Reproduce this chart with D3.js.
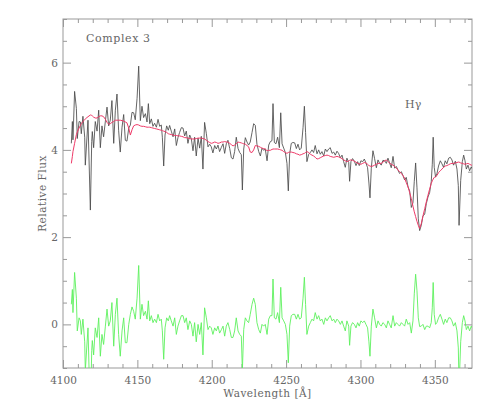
<!DOCTYPE html>
<html>
<head>
<meta charset="utf-8">
<script src="https://cdn.jsdelivr.net/npm/d3@7"></script>
<style>
  body { margin: 0; background: #fff; }
  svg text { font-family: "DejaVu Serif", serif; fill: #666; }
</style>
</head>
<body>
<div id="chart"></div>
<script>
// wavelength grid (Angstrom)
const wave = [
  4105.6,4106.3,4106.7,4107.8,4109.0,4109.6,4110.8,4111.7,4112.3,4113.4,
  4114.6,4115.0,4116.8,4118.4,4119.3,4119.7,4120.6,4121.7,4122.9,4124.0,
  4125.1,4126.2,4127.3,4128.5,4129.6,4130.7,4131.8,4132.9,4134.1,4135.2,
  4136.3,4137.4,4138.5,4139.7,4140.8,4141.9,4143.0,4144.2,4145.3,4146.4,
  4147.5,4148.6,4149.8,4150.9,4152.0,4153.1,4154.2,4155.4,4156.5,4157.4,
  4158.3,4159.4,4160.5,4161.6,4162.8,4163.9,4165.0,4166.1,4166.8,4167.7,
  4168.6,4169.7,4170.8,4171.7,4172.8,4174.0,4175.1,4176.2,4177.3,4178.4,
  4179.6,4180.7,4181.8,4182.9,4184.0,4185.2,4186.3,4187.4,4188.5,4189.6,
  4190.8,4191.9,4193.0,4194.1,4195.2,4196.4,4197.5,4198.6,4199.7,4200.8,
  4202.0,4203.1,4204.2,4205.3,4206.5,4207.6,4208.7,4209.8,4210.9,4212.1,
  4213.2,4214.3,4215.4,4216.5,4217.7,4218.8,4219.9,4220.6,4221.5,4222.6,
  4223.7,4224.8,4225.9,4227.1,4228.2,4229.3,4230.4,4231.6,4232.7,4233.8,
  4234.9,4236.0,4237.2,4238.3,4239.4,4240.5,4241.2,4242.1,4243.2,4244.3,
  4245.5,4246.4,4247.3,4248.4,4249.5,4250.6,4251.5,4252.4,4253.5,4254.6,
  4255.8,4256.9,4258.0,4259.1,4260.2,4261.4,4262.3,4263.1,4264.0,4265.2,
  4266.3,4267.4,4268.5,4269.6,4270.8,4271.9,4273.0,4274.1,4275.3,4276.4,
  4277.5,4278.6,4279.7,4280.9,4282.0,4283.1,4284.2,4285.3,4286.5,4287.6,
  4288.7,4289.8,4290.9,4292.1,4292.7,4293.6,4294.7,4295.9,4297.0,4298.1,
  4299.2,4300.3,4301.5,4302.6,4303.7,4304.8,4305.7,4306.4,4307.3,4308.4,
  4309.5,4310.7,4311.8,4312.9,4314.0,4315.1,4316.3,4317.4,4318.5,4319.6,
  4320.7,4321.9,4323.0,4324.1,4325.2,4326.3,4327.5,4328.6,4329.7,4330.8,
  4332.0,4333.1,4334.2,4335.3,4336.2,4337.1,4338.0,4338.9,4339.8,4340.9,
  4342.0,4343.2,4344.3,4345.4,4346.5,4347.6,4348.3,4348.9,4349.6,4350.5,
  4351.4,4352.5,4353.7,4354.8,4355.9,4357.0,4358.1,4359.3,4360.4,4361.5,
  4362.6,4363.8,4364.9,4365.8,4366.3,4367.4,4368.5,4369.4,4370.3,4371.2,
  4372.3,4373.4,4374.5,4375.0
];

// observed spectrum (black)
const flux = [
  4.15,4.65,4.23,5.34,4.95,4.26,4.65,4.64,4.37,4.77,
  4.29,3.65,4.68,2.62,4.19,4.42,4.05,4.65,4.43,4.91,
  4.05,4.55,4.30,4.66,4.98,4.55,4.68,5.13,4.15,4.91,
  5.28,4.45,3.95,4.52,4.81,4.22,4.20,4.50,4.57,4.86,
  4.85,4.69,5.18,5.92,4.67,5.00,4.74,4.83,4.64,5.06,
  4.60,4.71,4.54,4.61,4.52,4.70,4.54,4.57,4.29,3.63,
  4.34,4.55,4.45,4.56,4.43,4.30,4.48,4.10,4.28,4.40,
  4.51,4.50,4.32,4.43,4.15,4.34,4.25,3.98,4.29,3.86,
  4.27,4.04,4.31,3.56,4.63,4.37,4.07,4.13,4.07,3.93,
  4.10,4.02,4.11,3.96,4.06,4.14,3.92,4.14,4.22,4.03,
  3.82,3.79,3.96,4.29,4.03,3.94,3.89,3.08,4.02,4.28,
  4.18,4.11,4.18,4.40,4.60,4.56,4.13,3.96,3.86,4.04,
  3.99,4.02,3.75,4.11,4.19,4.21,5.06,4.17,4.14,4.29,
  4.05,4.85,4.14,4.04,3.94,3.69,3.06,3.91,4.15,4.17,
  4.16,4.03,4.13,4.00,4.04,4.51,5.00,4.40,3.73,3.90,
  3.94,4.00,3.94,4.10,3.91,4.00,3.90,3.96,3.86,4.02,
  3.96,4.02,4.05,3.92,3.95,3.88,3.97,3.92,3.82,3.88,
  3.73,3.60,3.81,3.71,3.28,3.73,3.80,3.74,3.64,3.73,
  3.64,3.75,3.73,3.79,3.70,3.59,3.24,2.90,3.58,3.98,
  3.80,3.59,3.77,3.69,3.65,3.76,3.75,3.69,3.81,3.70,
  3.59,3.85,3.58,3.62,3.54,3.46,3.50,3.41,3.31,3.37,
  3.15,3.06,2.68,2.79,3.28,3.70,3.13,2.42,2.15,2.27,
  2.48,2.53,2.77,2.92,3.02,3.27,3.67,4.29,3.60,3.38,
  3.45,3.63,3.75,3.68,3.60,3.75,3.68,3.81,3.83,3.77,
  3.65,3.74,3.56,3.18,2.27,3.30,3.73,3.88,3.75,3.56,
  3.65,3.52,3.61,3.57
];

// model fit (red)
const model = [
  3.69,3.85,3.96,4.15,4.35,4.41,4.50,4.56,4.60,4.65,
  4.69,4.71,4.76,4.80,4.79,4.78,4.75,4.73,4.73,4.76,
  4.78,4.78,4.76,4.70,4.63,4.59,4.60,4.63,4.65,4.68,
  4.68,4.68,4.68,4.67,4.66,4.64,4.62,4.50,4.34,4.46,
  4.55,4.57,4.58,4.57,4.55,4.54,4.54,4.53,4.52,4.52,
  4.52,4.51,4.50,4.49,4.48,4.47,4.46,4.45,4.44,4.43,
  4.42,4.40,4.37,4.36,4.35,4.34,4.33,4.33,4.32,4.32,
  4.31,4.30,4.28,4.28,4.27,4.26,4.25,4.25,4.25,4.26,
  4.27,4.27,4.27,4.26,4.25,4.22,4.19,4.17,4.15,4.16,
  4.18,4.17,4.15,4.16,4.18,4.18,4.19,4.18,4.18,4.15,
  4.12,4.09,4.11,4.14,4.18,4.17,4.16,4.15,4.14,4.13,
  4.10,4.07,3.95,3.94,4.00,4.10,4.09,4.08,4.06,4.04,
  4.03,4.02,3.98,3.99,3.99,4.01,4.02,4.02,4.02,4.02,
  4.01,4.00,3.99,3.96,3.94,3.92,3.94,3.95,3.95,3.94,
  3.93,3.91,3.90,3.88,3.89,3.91,3.92,3.94,3.96,3.94,
  3.90,3.88,3.86,3.83,3.79,3.80,3.82,3.84,3.86,3.87,
  3.88,3.87,3.85,3.84,3.83,3.84,3.85,3.84,3.82,3.80,
  3.77,3.75,3.73,3.75,3.76,3.77,3.76,3.74,3.72,3.69,
  3.68,3.67,3.69,3.71,3.70,3.67,3.64,3.63,3.62,3.63,
  3.65,3.67,3.69,3.69,3.69,3.72,3.75,3.77,3.73,3.70,
  3.67,3.65,3.62,3.58,3.54,3.50,3.46,3.41,3.35,3.25,
  3.15,3.02,2.88,2.71,2.58,2.47,2.36,2.27,2.20,2.31,
  2.48,2.65,2.81,2.96,3.10,3.23,3.29,3.33,3.37,3.38,
  3.41,3.48,3.52,3.56,3.60,3.63,3.64,3.66,3.68,3.69,
  3.69,3.70,3.71,3.72,3.72,3.70,3.69,3.68,3.67,3.68,
  3.69,3.67,3.65,3.65
];

// residual, observed minus model (green)
const resid = [
  0.46,0.80,0.27,1.19,0.60,-0.15,0.15,0.08,-0.23,0.12,
  -0.40,-1.06,-0.08,-2.18,-0.60,-0.37,-0.70,-0.08,-0.30,0.15,
  -0.73,-0.23,-0.46,-0.04,0.35,-0.04,0.08,0.50,-0.50,0.23,
  0.60,-0.23,-0.73,-0.15,0.15,-0.42,-0.42,0.00,0.23,0.40,
  0.30,0.12,0.60,1.35,0.12,0.46,0.20,0.30,0.12,0.54,
  0.08,0.20,0.04,0.12,0.04,0.23,0.08,0.12,-0.15,-0.80,
  -0.08,0.15,0.08,0.20,0.08,-0.04,0.15,-0.23,-0.04,0.08,
  0.20,0.20,0.04,0.15,-0.12,0.08,0.00,-0.27,0.04,-0.40,
  0.00,-0.23,0.04,-0.70,0.38,0.15,-0.12,-0.04,-0.08,-0.23,
  -0.08,-0.15,-0.04,-0.20,-0.12,-0.04,-0.27,-0.04,0.04,-0.12,
  -0.30,-0.30,-0.15,0.15,-0.15,-0.23,-0.27,-1.07,-0.12,0.15,
  0.08,0.04,0.23,0.46,0.60,0.46,0.04,-0.12,-0.20,0.00,
  -0.04,0.00,-0.23,0.12,0.20,0.20,1.04,0.15,0.12,0.27,
  0.04,0.85,0.15,0.08,0.00,-0.23,-0.88,-0.04,0.20,0.23,
  0.23,0.12,0.23,0.12,0.15,0.60,1.08,0.46,-0.23,-0.04,
  0.04,0.12,0.08,0.27,0.12,0.20,0.08,0.12,0.00,0.15,
  0.08,0.15,0.20,0.08,0.12,0.04,0.12,0.08,0.00,0.08,
  -0.04,-0.15,0.08,-0.04,-0.48,-0.04,0.04,0.00,-0.08,0.04,
  -0.04,0.08,0.04,0.08,0.00,-0.08,-0.40,-0.73,-0.04,0.35,
  0.15,-0.08,0.08,0.00,-0.04,0.04,0.00,-0.08,0.08,0.00,
  -0.08,0.20,-0.04,0.04,0.00,-0.04,0.04,0.00,-0.04,0.12,
  0.00,0.04,-0.20,0.08,0.70,1.15,0.77,0.15,-0.05,-0.04,
  0.00,-0.12,-0.04,-0.04,-0.08,0.04,0.38,0.96,0.23,0.00,
  0.04,0.15,0.23,0.12,0.00,0.12,0.04,0.15,0.15,0.08,
  -0.04,0.04,-0.15,-0.54,-1.45,-0.40,0.04,0.20,0.08,-0.12,
  -0.04,-0.15,-0.04,-0.08
];

const xMajor = [4100, 4150, 4200, 4250, 4300, 4350];
const yMajor = [0, 2, 4, 6];

const W = 491, H = 409;
const m = { left: 63, right: 19, top: 19, bottom: 41 };

const svg = d3.select('#chart').append('svg')
  .attr('width', W).attr('height', H);

const x = d3.scaleLinear().domain([4100, 4375]).range([m.left, W - m.right]);
const y = d3.scaleLinear().domain([-1, 7]).range([H - m.bottom, m.top]);

const xMinor = d3.range(4100, 4376, 10).filter(v => v % 50 !== 0);
const yMinor = d3.range(-1, 7.01, 0.5).filter(v => v % 2 !== 0);

const pB = H - m.bottom, pT = m.top, pL = m.left, pR = W - m.right;

svg.append('clipPath').attr('id', 'plot-clip')
  .append('rect')
  .attr('x', pL).attr('y', pT)
  .attr('width', pR - pL).attr('height', pB - pT);

// axes, ticks pointing in
function styleAxis(g) {
  g.select('.domain').remove();
  g.selectAll('.tick line').attr('stroke', '#999');
  g.selectAll('.tick text').attr('font-size', 10.5).attr('fill', '#666')
    .style('font-family', '"DejaVu Serif", serif');
}

svg.append('g').attr('transform', `translate(0,${pB})`)
  .call(d3.axisBottom(x).tickValues(xMajor).tickSize(-8).tickPadding(9).tickFormat(d3.format('d')))
  .call(styleAxis);
svg.append('g').attr('transform', `translate(0,${pB})`)
  .call(d3.axisBottom(x).tickValues(xMinor).tickSize(-4).tickFormat(''))
  .call(styleAxis);
svg.append('g').attr('transform', `translate(0,${pT})`)
  .call(d3.axisTop(x).tickValues(xMajor).tickSize(-8).tickFormat(''))
  .call(styleAxis);
svg.append('g').attr('transform', `translate(0,${pT})`)
  .call(d3.axisTop(x).tickValues(xMinor).tickSize(-4).tickFormat(''))
  .call(styleAxis);

svg.append('g').attr('transform', `translate(${pL},0)`)
  .call(d3.axisLeft(y).tickValues(yMajor).tickSize(-8).tickPadding(5).tickFormat(d3.format('d')))
  .call(styleAxis);
svg.append('g').attr('transform', `translate(${pL},0)`)
  .call(d3.axisLeft(y).tickValues(yMinor).tickSize(-4).tickFormat(''))
  .call(styleAxis);
svg.append('g').attr('transform', `translate(${pR},0)`)
  .call(d3.axisRight(y).tickValues(yMajor).tickSize(-8).tickFormat(''))
  .call(styleAxis);
svg.append('g').attr('transform', `translate(${pR},0)`)
  .call(d3.axisRight(y).tickValues(yMinor).tickSize(-4).tickFormat(''))
  .call(styleAxis);

svg.append('rect')
  .attr('x', pL).attr('y', pT)
  .attr('width', pR - pL).attr('height', pB - pT)
  .attr('fill', 'none').attr('stroke', '#999');

const plot = svg.append('g').attr('clip-path', 'url(#plot-clip)');
const idx = d3.range(wave.length);

const line = arr => d3.line().x(i => x(wave[i])).y(i => y(arr[i]));

plot.append('path').datum(idx)
  .attr('d', line(flux))
  .attr('fill', 'none').attr('stroke', '#4a4a4a').attr('stroke-width', 0.85);
plot.append('path').datum(idx)
  .attr('d', line(model))
  .attr('fill', 'none').attr('stroke', '#ef3a68').attr('stroke-width', 1);
plot.append('path').datum(idx)
  .attr('d', line(resid))
  .attr('fill', 'none').attr('stroke', '#5df05d').attr('stroke-width', 0.9);

// labels
svg.append('text')
  .attr('x', 86).attr('y', 42)
  .attr('font-size', 11).attr('letter-spacing', 0.6)
  .text('Complex 3');

svg.append('text')
  .attr('x', x(4330)).attr('y', y(4.97))
  .attr('font-size', 11)
  .text('Hγ');

svg.append('text')
  .attr('x', (pL + pR) / 2).attr('y', 397)
  .attr('text-anchor', 'middle').attr('font-size', 10.5).attr('letter-spacing', 0.5)
  .text('Wavelength [Å]');

svg.append('text')
  .attr('transform', `translate(46,${(pT + pB) / 2}) rotate(-90)`)
  .attr('text-anchor', 'middle').attr('font-size', 10.5).attr('letter-spacing', 0.5)
  .text('Relative Flux');
</script>
</body>
</html>
